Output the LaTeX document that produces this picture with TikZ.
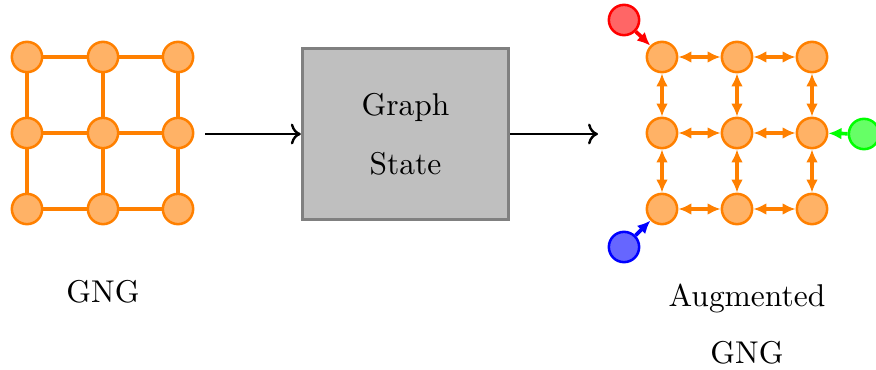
\documentclass[tikz,border=0pt]{standalone}
\usetikzlibrary{arrows.meta}
\begin{document}
\begin{tikzpicture}[x=0.3367pt, y=-0.3367pt,
  every node/.style={font=\fontsize{10.6}{13}\selectfont},
  vert/.style={circle, draw=orange, fill=orange!60, line width=0.85pt, minimum size=10.2pt, inner sep=0pt},
  redv/.style={vert, draw=red, fill=red!60},
  bluev/.style={vert, draw=blue, fill=blue!60},
  greenv/.style={vert, draw=green, fill=green!60},
  plain/.style={draw=orange, line width=1.25pt},
  dbl/.style={draw=orange, line width=1.25pt, {Latex[length=4.4pt,width=4pt]}-{Latex[length=4.4pt,width=4pt]}},
  inarrow/.style={line width=1.25pt, -{Latex[length=4.4pt,width=4pt]}},
  flow/.style={line width=0.8pt, ->},
  proc/.style={draw=black!50, fill=black!25, line width=1pt, minimum width=69.5pt, minimum height=57.5pt, align=center, inner sep=0pt},
  lbl/.style={align=center, inner sep=0pt}
]
\useasboundingbox (0,0) rectangle (876,369);

% plain GNG grid
\foreach \c/\x in {1/27,2/103,3/178}
  \foreach \r/\y in {1/57,2/133,3/209}
    \node[vert] (g\c\r) at (\x,\y) {};
\foreach \r in {1,2,3} {
  \draw[plain] (g1\r) -- (g2\r);
  \draw[plain] (g2\r) -- (g3\r);
}
\foreach \c in {1,2,3} {
  \draw[plain] (g\c1) -- (g\c2);
  \draw[plain] (g\c2) -- (g\c3);
}
\node[lbl] (gnglbl) at (103,292) {GNG};

% processing block
\node[proc] (state) at (405.5,134) {Graph\\[7pt]State};
\coordinate (instart) at (205,134);
\coordinate (outend) at (598,134);
\draw[flow] (instart) -- (state.west);
\draw[flow] (state.east) -- (outend);

% augmented grid
\foreach \c/\x in {1/662,2/737,3/812}
  \foreach \r/\y in {1/57,2/133,3/209}
    \node[vert] (a\c\r) at (\x,\y) {};
\foreach \r in {1,2,3} {
  \draw[dbl] (a1\r) -- (a2\r);
  \draw[dbl] (a2\r) -- (a3\r);
}
\foreach \c in {1,2,3} {
  \draw[dbl] (a\c1) -- (a\c2);
  \draw[dbl] (a\c2) -- (a\c3);
}

% extra vertices
\node[redv] (rv) at (624,20) {};
\node[bluev] (bv) at (624,247) {};
\node[greenv] (gv) at (864,134) {};
\draw[inarrow, red] (rv) -- (a11);
\draw[inarrow, blue] (bv) -- (a13);
\draw[inarrow, green] (gv) -- (a32);

\node[lbl] (auglbl) at (747,324) {Augmented\\[6pt]GNG};
\end{tikzpicture}
\end{document}
